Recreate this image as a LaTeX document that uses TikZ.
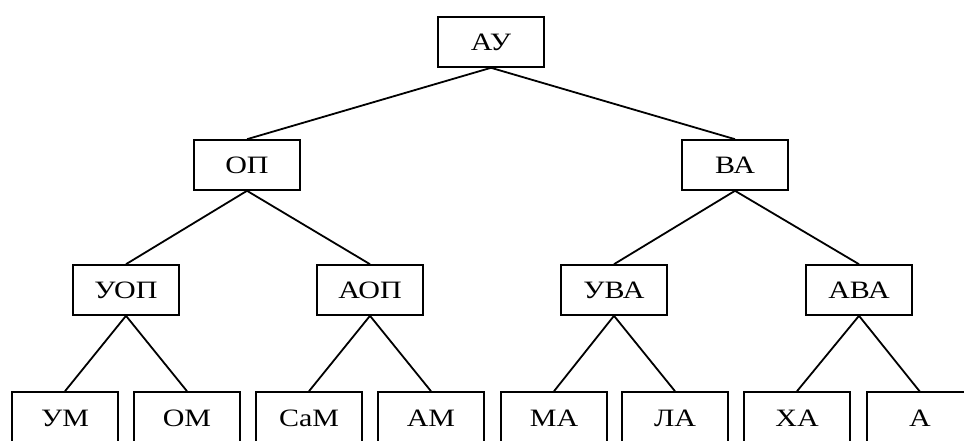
\documentclass[tikz,border=0pt]{standalone}
\usepackage{fontspec}
\setmainfont{Liberation Serif}[FakeStretch=1.2]
\begin{document}
\begin{tikzpicture}[x=1pt,y=-1pt,
  boxtext/.style={minimum width=106pt,minimum height=50pt,inner sep=0pt,font=\fontsize{25}{28}\selectfont},
  box/.style={boxtext,draw,line width=1.6pt},
  leaf/.style={box,minimum height=52pt},
  link/.style={line width=1.8pt}]
\useasboundingbox (0,0) rectangle (964,441);
\clip (0,0) rectangle (964,441);
\node[box] (au) at (491,42) {АУ};
\node[box] (op) at (247,165) {ОП};
\node[box] (va) at (735,165) {ВА};
\node[box] (uop) at (126,290) {УОП};
\node[box] (aop) at (370,290) {АОП};
\node[box] (uva) at (614,290) {УВА};
\node[box] (ava) at (859,290) {АВА};
\node[leaf] (um) at (65,418) {УМ};
\node[leaf] (om) at (187,418) {ОМ};
\node[leaf] (sam) at (309,418) {СаМ};
\node[leaf] (am) at (431,418) {АМ};
\node[leaf] (ma) at (554,418) {МА};
\node[leaf] (la) at (675,418) {ЛА};
\node[leaf] (ha) at (797,418) {ХА};
\node[boxtext,minimum height=52pt] (a) at (920,418) {А};
\draw[line width=1.6pt] (a.north east) -- (a.north west) -- (a.south west);
\draw[link] (au.south) -- (op.north);
\draw[link] (au.south) -- (va.north);
\draw[link] (op.south) -- (uop.north);
\draw[link] (op.south) -- (aop.north);
\draw[link] (va.south) -- (uva.north);
\draw[link] (va.south) -- (ava.north);
\draw[link] (uop.south) -- (um.north);
\draw[link] (uop.south) -- (om.north);
\draw[link] (aop.south) -- (sam.north);
\draw[link] (aop.south) -- (am.north);
\draw[link] (uva.south) -- (ma.north);
\draw[link] (uva.south) -- (la.north);
\draw[link] (ava.south) -- (ha.north);
\draw[link] (ava.south) -- (a.north);
\end{tikzpicture}
\end{document}
